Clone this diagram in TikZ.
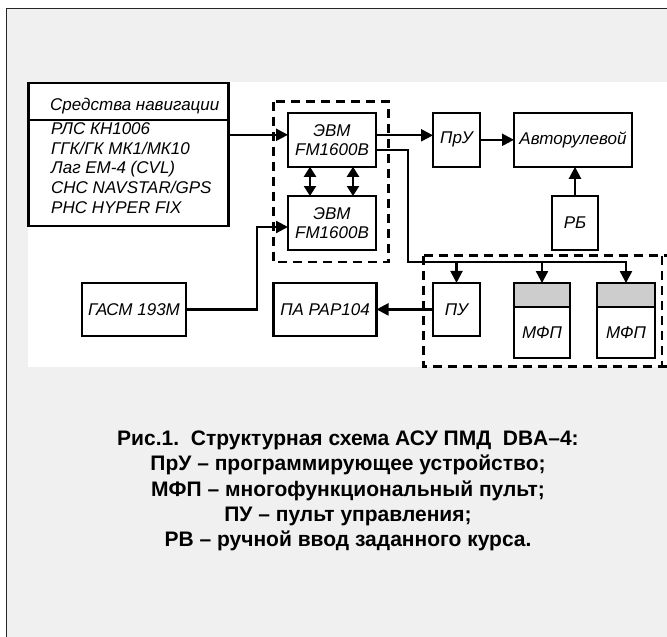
\documentclass[tikz,border=0pt]{standalone}
\usepackage{fontspec}
\setmainfont{Liberation Sans}
\usetikzlibrary{arrows.meta,positioning}
\definecolor{pagegray}{RGB}{240,240,240}
\definecolor{capgray}{RGB}{205,205,205}

\begin{document}
\begin{tikzpicture}[x=1pt,y=-1pt,
    blk/.style={draw,line width=2.2pt,inner sep=0pt,outer sep=0pt,align=center,
      font=\itshape\fontsize{17}{19}\selectfont},
    grp/.style={draw,line width=2.2pt,dash pattern=on 9pt off 6pt},
    wire/.style={line width=2.2pt},
    arr/.style={wire,-{Triangle[length=12pt,width=12pt]}},
    darr/.style={wire,{Triangle[length=10pt,width=12pt]}-{Triangle[length=10pt,width=12pt]}}]
  % page and frame
  \useasboundingbox (0,0) rectangle (667,637);
  \fill[white] (0,0) rectangle (667,637);
  \fill[pagegray] (7,9) rectangle (667,637);
  \draw[line width=1.6pt,black!85] (6.5,637) -- (6.5,8.5) -- (667,8.5);
  \fill[white] (28,82) rectangle (667,367);

  % navigation aids
  \node[blk,minimum width=200pt,minimum height=143pt] (nav) at (128.5,154.7) {};
  \draw[line width=2.2pt] (28.5,119.7) -- (228.5,119.7);
  \node[anchor=west,inner sep=0pt,font=\itshape\fontsize{17}{19}\selectfont] (navhead) at (50,106) {Средства навигации};
  \node[anchor=north west,align=left,inner sep=0pt,
        font=\itshape\fontsize{17}{19.7}\selectfont] (navlist) at (51,122.5)
    {РЛС КН1006\\ГГК/ГК МК1/МК10\\Лаг EM-4 (CVL)\\СНС NAVSTAR/GPS\\РНС HYPER FIX};

  % computers
  \draw[grp] (273.5,101.5) rectangle (388.5,262);
  \node[blk,minimum width=88pt,minimum height=54pt] (evmA) at (332,139.8) {ЭВМ\\FM1600B};
  \node[blk,minimum width=88pt,minimum height=54pt] (evmB) at (332,223) {ЭВМ\\FM1600B};

  % steering chain
  \node[blk,minimum width=47pt,minimum height=54pt] (pru) at (456.5,139.8) {ПрУ};
  \node[blk,minimum width=118pt,minimum height=54pt] (avt) at (573,139.8) {Авторулевой};
  \node[blk,minimum width=46pt,minimum height=54pt] (rb) at (575,223) {РБ};

  % lower row
  \node[blk,minimum width=104pt,minimum height=53pt] (gasm) at (134,309.4) {ГАСМ 193М};
  \node[blk,minimum width=103pt,minimum height=53pt] (pa) at (325,309.4) {ПА РАР104};
  \node[blk,minimum width=47pt,minimum height=53pt] (pu) at (456.5,309.4) {ПУ};
  \node[blk,minimum width=56pt,minimum height=51.5pt] (mfpA) at (542,332.5) {МФП};
  \node[blk,fill=capgray,minimum width=56pt,minimum height=23.7pt,above=0pt of mfpA] (capA) {};
  \node[blk,minimum width=58pt,minimum height=51.5pt] (mfpB) at (626,332.5) {МФП};
  \node[blk,fill=capgray,minimum width=58pt,minimum height=23.7pt,above=0pt of mfpB] (capB) {};
  \draw[grp] (423.5,255.5) -- (667,255.5);
  \draw[grp] (423.5,255.5) -- (423.5,366.5) -- (667,366.5);
  \draw[grp] (662,255.5) -- (662,366.5);

  % connections
  \coordinate (inA) at ([yshift=5pt]evmA.west);
  \draw[arr] (nav.east |- inA) -- (inA);
  \coordinate (inB) at ([yshift=-4pt]evmB.west);
  \draw[arr] (gasm.east) -| ([xshift=-31pt]inB) -- (inB);
  \draw[darr] ([xshift=-22pt]evmA.south) -- ([xshift=-22pt]evmB.north);
  \draw[darr] ([xshift=21pt]evmA.south) -- ([xshift=21pt]evmB.north);
  \coordinate (outA) at ([yshift=4.5pt]evmA.east);
  \draw[arr] (outA) -- (pru.west |- outA);
  \draw[arr] (pru.east) -- (avt.west);
  \draw[arr] (rb.north) -- (rb.north |- avt.south);
  \coordinate (bus) at (408,262);
  \draw[arr] ([yshift=-10.5pt]evmA.east) -| (bus) -| (capB.north);
  \draw[arr] (bus -| pu.north) -- (pu.north);
  \draw[arr] (bus -| capA.north) -- (capA.north);
  \draw[arr] (pu.west) -- (pa.east);

  % caption
  \node[align=center,font=\bfseries\fontsize{21}{25.4}\selectfont] (caption) at (348,491)
    {Рис.1.\ \ Структурная схема АСУ ПМД\ \ DBA–4:\\
     ПрУ – программирующее устройство;\\
     МФП – многофункциональный пульт;\\
     ПУ – пульт управления;\\
     РВ – ручной ввод заданного курса.};
\end{tikzpicture}
\end{document}
